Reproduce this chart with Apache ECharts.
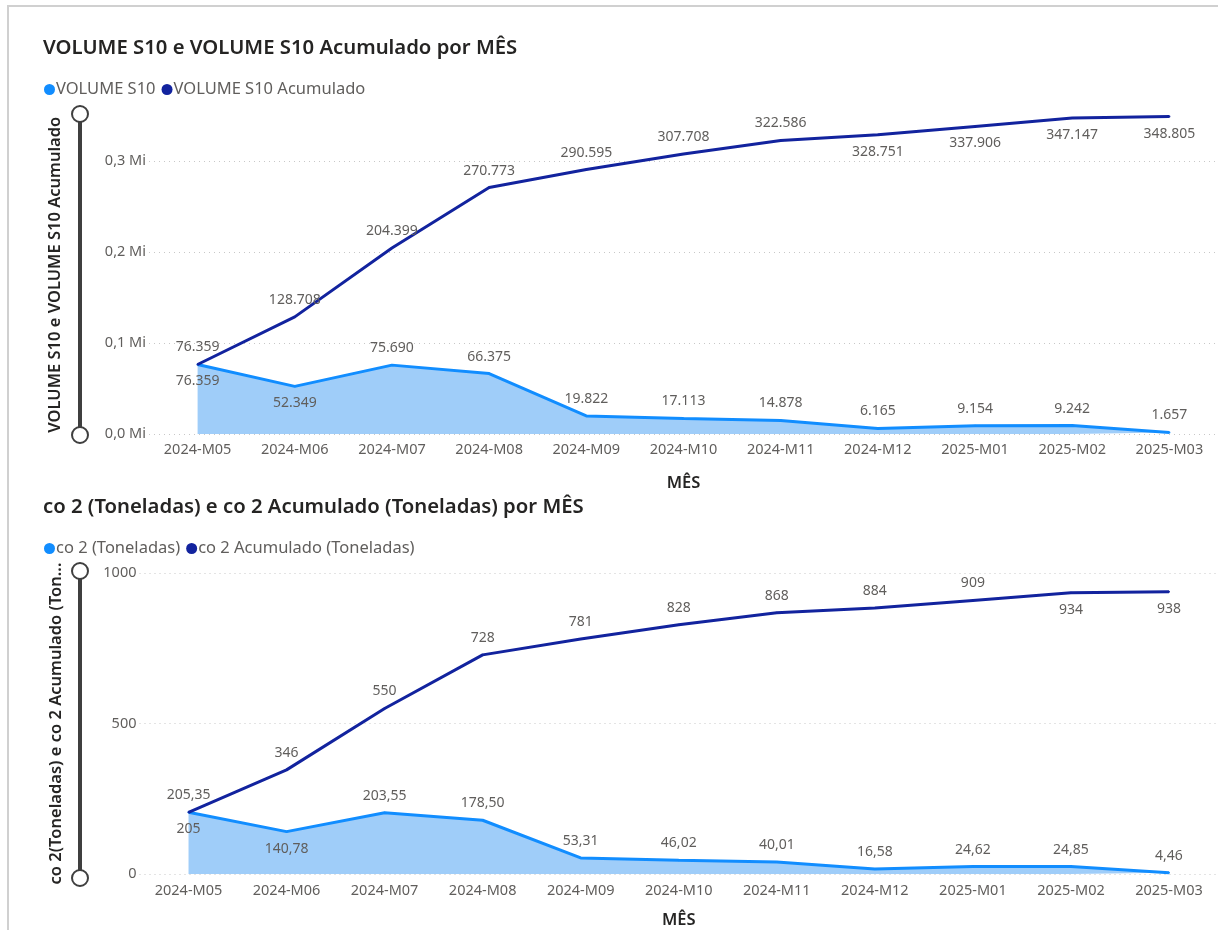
<!DOCTYPE html>
<html><head><meta charset="utf-8">
<script src="https://cdn.jsdelivr.net/npm/echarts@6/dist/echarts.min.js"></script>
<style>html,body{margin:0;padding:0;background:#fff}#c{width:1218px;height:930px}</style>
</head><body><div id="c"></div>
<script>
const months = ['2024-M05','2024-M06','2024-M07','2024-M08','2024-M09','2024-M10','2024-M11','2024-M12','2025-M01','2025-M02','2025-M03'];
const volumeS10 = [76359, 52349, 75690, 66375, 19822, 17113, 14878, 6165, 9154, 9242, 1657];
const volumeS10Acum = [76359, 128708, 204399, 270773, 290595, 307708, 322586, 328751, 337906, 347147, 348805];
const co2 = [205.35, 140.78, 203.55, 178.50, 53.31, 46.02, 40.01, 16.58, 24.62, 24.85, 4.46];
const co2Acum = [205, 346, 550, 728, 781, 828, 868, 884, 909, 934, 938];
const volTicks = [0, 100000, 200000, 300000];
const co2Ticks = [0, 500, 1000];

// label placement (style)
const volLabelPos    = ['top','bottom','top','top','top','top','top','top','top','top','top'];
const volAcumLabelPos= ['bottom','top','top','top','top','top','top','bottom','bottom','bottom','bottom'];
const co2LabelPos    = ['top','bottom','top','top','top','top','top','top','top','top','top'];
const co2AcumLabelPos= ['bottom','top','top','top','top','top','top','top','top','bottom','bottom'];

function ptInt(v){ return Math.round(v).toString().replace(/\B(?=(\d{3})+(?!\d))/g,'.'); }
function ptDec(v){ return v.toFixed(2).replace('.',','); }

const LIGHT = '#118DFF', DARK = '#12239E', AREA = '#9fcdf9';
const FONT = 'Noto Sans';
const LBL = {color:'#605E5C', fontSize:14, fontFamily:FONT, distance:9};
const AXL = {fontFamily:FONT, fontSize:14.5, color:'#605E5C'};
const NAME = {fontFamily:FONT, fontSize:16.5, fontWeight:600, color:'#252423'};
const TITLE = {fontFamily:FONT, fontSize:20.3, fontWeight:600, color:'#252423'};
const LEG = {fontFamily:FONT, fontSize:16.5, color:'#605E5C', padding:[0,0,0,-4]};

function items(vals, pos, fmt){
  return vals.map((v,i)=>({value:v, label:{position:pos[i], formatter:()=>fmt(v)}}));
}
function lineSeries(name, xi, vals, pos, fmt, color, area){
  const s = {name:name, type:'line', xAxisIndex:xi, yAxisIndex:xi, data:items(vals,pos,fmt),
    symbol:'circle', symbolSize:2, showSymbol:true,
    lineStyle:{color:color, width:3}, itemStyle:{color:color},
    label:Object.assign({show:true}, LBL), z: area ? 2 : 3};
  if (area) s.areaStyle = {color:AREA, opacity:1};
  return s;
}

const chart = echarts.init(document.getElementById('c'));
chart.setOption({
  animation:false,
  title:[
    {text:'VOLUME S10 e VOLUME S10 Acumulado por MÊS', left:38, top:33, textStyle:TITLE},
    {text:'co 2 (Toneladas) e co 2 Acumulado (Toneladas) por MÊS', left:38, top:492, textStyle:TITLE}
  ],
  legend:[
    {data:['VOLUME S10','VOLUME S10 Acumulado'], left:39, top:76, icon:'circle', itemWidth:11, itemHeight:11, itemGap:6, textStyle:LEG},
    {data:['co 2 (Toneladas)','co 2 Acumulado (Toneladas)'], left:39, top:535, icon:'circle', itemWidth:11, itemHeight:11, itemGap:6, textStyle:LEG}
  ],
  grid:[
    {left:149, right:-9, top:115.5, height:318.5},
    {left:139.5, right:-10, top:573, height:304}
  ],
  xAxis:[
    {type:'category', gridIndex:0, data:months, boundaryGap:true,
     axisLine:{show:false}, axisTick:{show:false},
     axisLabel:Object.assign({margin:8}, AXL),
     name:'MÊS', nameLocation:'middle', nameGap:41, nameTextStyle:NAME},
    {type:'category', gridIndex:1, data:months, boundaryGap:true,
     axisLine:{show:false}, axisTick:{show:false},
     axisLabel:Object.assign({margin:9}, AXL),
     name:'MÊS', nameLocation:'middle', nameGap:38, nameTextStyle:NAME}
  ],
  yAxis:[
    {type:'value', gridIndex:0, min:volTicks[0], max:350000, interval:volTicks[1]-volTicks[0],
     axisLine:{show:false}, axisTick:{show:false},
     splitLine:{show:true, showMaxLine:false, lineStyle:{type:[1,4], color:'#c8c8c8', width:1}},
     axisLabel:Object.assign({margin:3, showMaxLabel:false,
       formatter:v=>(v/1e6).toFixed(1).replace('.',',')+' Mi'}, AXL),
     name:'VOLUME S10 e VOLUME S10 Acumulado', nameLocation:'middle', nameGap:85,
     nameTextStyle:NAME},
    {type:'value', gridIndex:1, min:co2Ticks[0], max:co2Ticks[co2Ticks.length-1], interval:co2Ticks[1]-co2Ticks[0],
     axisLine:{show:false}, axisTick:{show:false},
     splitLine:{show:true, lineStyle:{type:[1,4], color:'#c8c8c8', width:1}},
     axisLabel:Object.assign({margin:3, formatter:v=>String(v)}, AXL),
     name:'co 2(Toneladas) e co 2 Acumulado (Ton...', nameLocation:'middle', nameGap:75,
     nameTextStyle:NAME}
  ],
  series:[
    lineSeries('VOLUME S10', 0, volumeS10, volLabelPos, ptInt, LIGHT, true),
    lineSeries('VOLUME S10 Acumulado', 0, volumeS10Acum, volAcumLabelPos, ptInt, DARK, false),
    lineSeries('co 2 (Toneladas)', 1, co2, co2LabelPos, ptDec, LIGHT, true),
    lineSeries('co 2 Acumulado (Toneladas)', 1, co2Acum, co2AcumLabelPos, ptInt, DARK, false)
  ],
  graphic:[
    {type:'rect', shape:{x:8, y:6, width:1212, height:930}, style:{fill:'none', stroke:'#d0d0d0', lineWidth:2}, silent:true},
    {type:'line', shape:{x1:80, y1:115, x2:80, y2:435}, style:{stroke:'#3f3f3f', lineWidth:4}},
    {type:'circle', shape:{cx:80, cy:114, r:8}, style:{fill:'#fff', stroke:'#3f3f3f', lineWidth:2}},
    {type:'circle', shape:{cx:80, cy:435, r:8}, style:{fill:'#fff', stroke:'#3f3f3f', lineWidth:2}},
    {type:'line', shape:{x1:80, y1:572, x2:80, y2:878}, style:{stroke:'#3f3f3f', lineWidth:4}},
    {type:'circle', shape:{cx:80, cy:571, r:8}, style:{fill:'#fff', stroke:'#3f3f3f', lineWidth:2}},
    {type:'circle', shape:{cx:80, cy:878, r:8}, style:{fill:'#fff', stroke:'#3f3f3f', lineWidth:2}}
  ]
});
</script></body></html>
